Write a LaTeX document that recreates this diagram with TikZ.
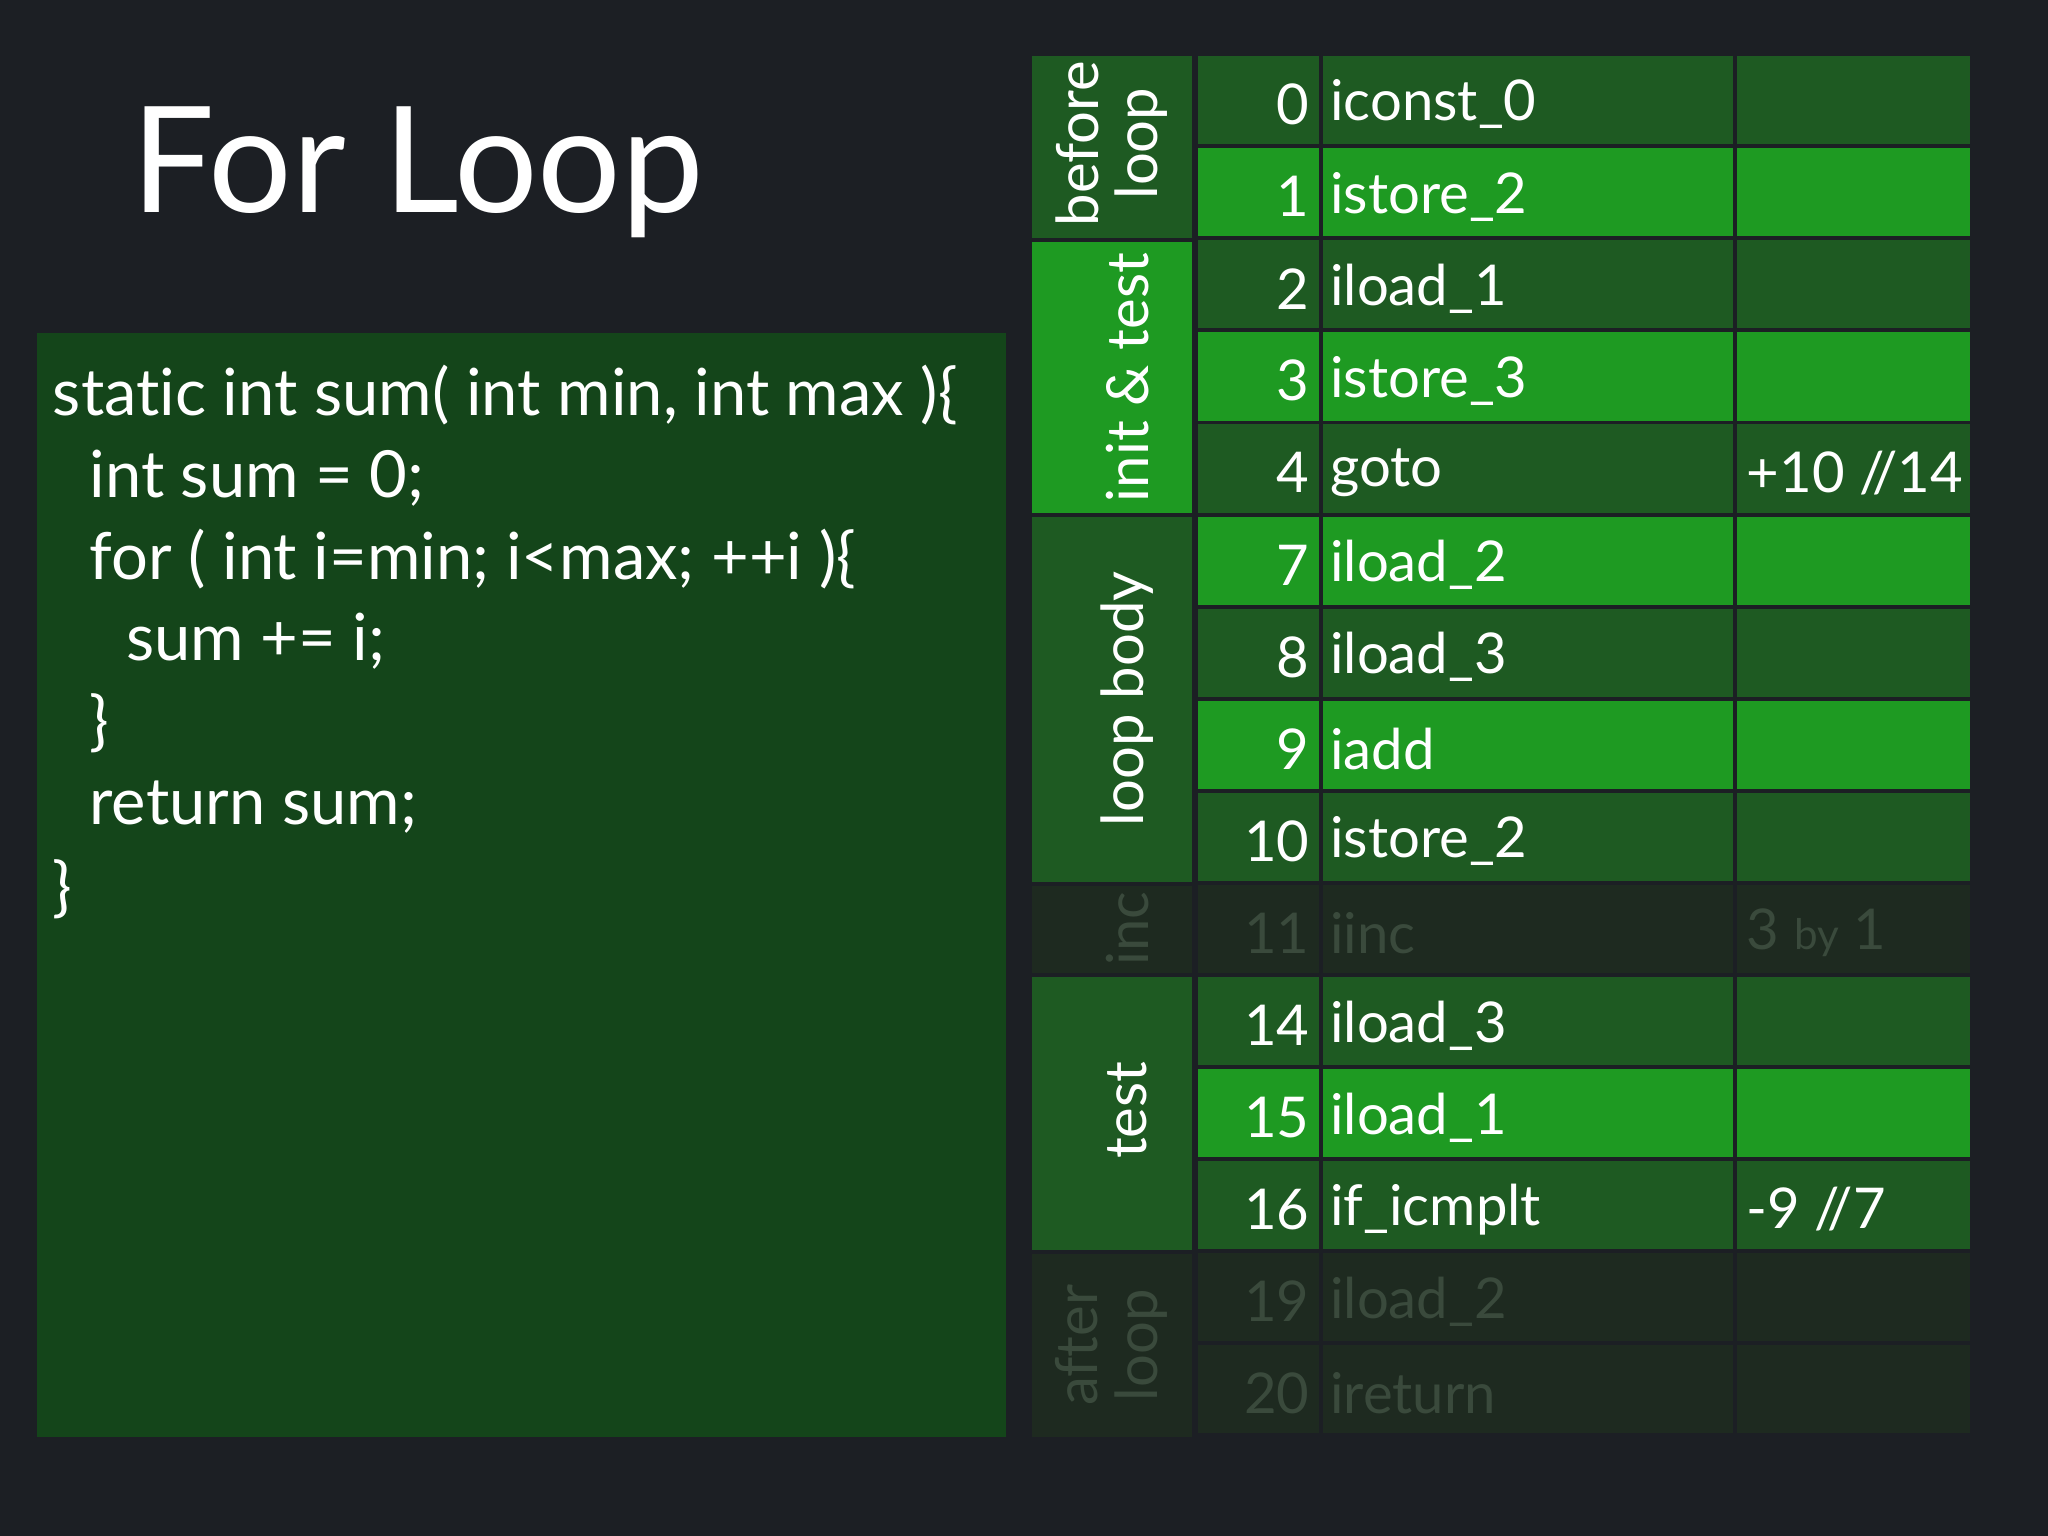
\documentclass[tikz,border=0pt]{standalone}
\usepackage{fontspec}
\setmainfont[Ligatures={NoCommon}]{Lato}
\begin{document}
\begin{tikzpicture}[x=0.013061cm,y=-0.013061cm]
\definecolor{bgc}{HTML}{1C1F24}
\definecolor{codebg}{HTML}{14451A}
\definecolor{brt}{HTML}{1E9A22}
\definecolor{drk}{HTML}{1E5A22}
\definecolor{dim}{HTML}{1E2A20}
\definecolor{dimtxt}{HTML}{3A4A3C}
\tikzset{
  tt/.style={text=white,font=\fontsize{16}{19}\selectfont,inner sep=0pt},
  codet/.style={text=white,font=\fontsize{18.5}{22}\selectfont,anchor=base west,inner sep=0pt},
  grp/.style={rotate=90,align=center,text=white,font=\fontsize{16.5}{17}\selectfont,inner sep=0pt}
}
\fill[bgc] (0,0) rectangle (1568,1176);
\node[text=white,font=\fontsize{42}{46}\selectfont,anchor=base west,inner sep=0pt] (title) at (100,163) {For Loop};
\fill[codebg] (28,255) rectangle (770,1100);
\node[codet] (c1) at (40,318) {static int sum( int min, int max )\{};
\node[codet] (c2) at (68,381) {int sum = 0;};
\node[codet] (c3) at (68,444) {for ( int i=min; i<max; ++i )\{};
\node[codet] (c4) at (96,506) {sum += i;};
\node[codet] (c5) at (68,569) {\}};
\node[codet] (c6) at (68,631) {return sum;};
\node[codet] (c7) at (40,696) {\}};
% rows
\foreach \i/\n/\op/\arg/\c/\t in {
 0/0/iconst\_0/{}/drk/white, 1/1/istore\_2/{}/brt/white, 2/2/iload\_1/{}/drk/white,
 3/3/istore\_3/{}/brt/white, 4/4/goto/{+10 //14}/drk/white, 5/7/iload\_2/{}/brt/white,
 6/8/iload\_3/{}/drk/white, 7/9/iadd/{}/brt/white, 8/10/istore\_2/{}/drk/white,
 9/11/iinc/{3 {\fontsize{12}{12}\selectfont by} 1}/dim/dimtxt, 10/14/iload\_3/{}/drk/white,
 11/15/iload\_1/{}/brt/white, 12/16/if\_icmplt/{-9 //7}/drk/white,
 13/19/iload\_2/{}/dim/dimtxt, 14/20/ireturn/{}/dim/dimtxt}{
  \pgfmathsetmacro\yt{43+\i*70.5}
  \pgfmathsetmacro\yb{\yt+67.5}
  \pgfmathsetmacro\ym{\yt+37}
  \fill[\c] (917,\yt) rectangle (1010,\yb);
  \fill[\c] (1013,\yt) rectangle (1327,\yb);
  \fill[\c] (1330,\yt) rectangle (1508,\yb);
  \node[tt,text=\t,anchor=east] (n\i) at (1003,\ym) {\n};
  \node[tt,text=\t,anchor=west] (o\i) at (1018,\ym) {\op};
  \node[tt,text=\t,anchor=west] (a\i) at (1337,\ym) {\arg};
}
% groups
\fill[drk] (790,43) rectangle (913,182);
\node[grp] (g1) at (851,110) {before\\loop};
\fill[brt] (790,185) rectangle (913,393);
\node[grp] (g2) at (863,289) {init \& test};
\fill[drk] (790,396) rectangle (913,675);
\node[grp] (g3) at (863,535) {loop body};
\fill[dim] (790,678) rectangle (913,745);
\node[grp,text=dimtxt] (g4) at (863,711) {inc};
\fill[drk] (790,748) rectangle (913,957);
\node[grp] (g5) at (863,850) {test};
\fill[dim] (790,960) rectangle (913,1100);
\node[grp,text=dimtxt] (g6) at (851,1030) {after\\loop};
\end{tikzpicture}
\end{document}
